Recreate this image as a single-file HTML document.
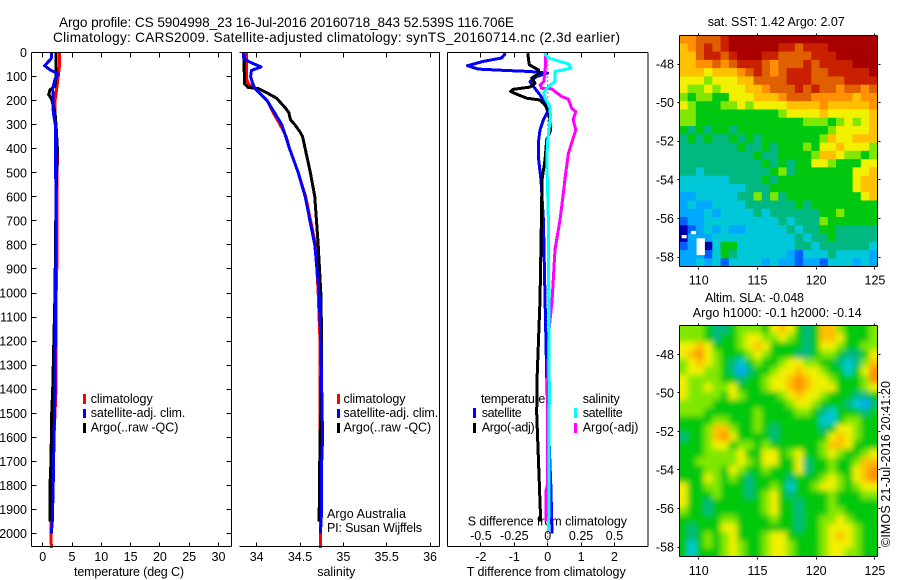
<!DOCTYPE html>
<html>
<head>
<meta charset="utf-8">
<title>Argo profile</title>
<style>
html,body{margin:0;padding:0;background:#fff;width:900px;height:580px;overflow:hidden}
svg{display:block}
text{font-family:"Liberation Sans",sans-serif;font-size:12.5px;fill:#000}
text.big{font-size:13.6px}
.frame{fill:none;stroke:#000;stroke-width:1;shape-rendering:crispEdges}
.curve{fill:none;stroke-width:3;stroke-linejoin:round;shape-rendering:crispEdges}
</style>
</head>
<body>
<svg id="chart" xmlns="http://www.w3.org/2000/svg" width="900" height="580" viewBox="0 0 900 580">
  <defs>
    <clipPath id="map1-clip"><rect x="679.5" y="35.5" width="198" height="231"/></clipPath>
    <clipPath id="map2-clip"><rect x="679.5" y="325.5" width="198" height="231"/></clipPath>
    <filter id="smooth" x="-10%" y="-10%" width="120%" height="120%"><feGaussianBlur stdDeviation="3"/></filter>
  </defs>
  <text class="big" x="59" y="27" textLength="455">Argo profile: CS 5904998_23 16-Jul-2016 20160718_843 52.539S 116.706E</text>
  <text class="big" x="53" y="42" textLength="567">Climatology: CARS2009. Satellite-adjusted climatology: synTS_20160714.nc (2.3d earlier)</text>
  <text x="74" y="576" textLength="110">temperature (deg C)</text>
  <text x="317.3" y="576" textLength="38">salinity</text>
  <text x="466.7" y="576" textLength="159">T difference from climatology</text>
  <text x="467.7" y="525.5" textLength="159.3">S difference from climatology</text>
  <text x="327" y="518" textLength="79">Argo Australia</text>
  <text x="327" y="532" textLength="95">PI: Susan Wijffels</text>
  <text x="707.7" y="26" textLength="137">sat. SST: 1.42 Argo: 2.07</text>
  <text x="705" y="302" textLength="99">Altim. SLA: -0.048</text>
  <text x="692.7" y="317" textLength="169">Argo h1000: -0.1 h2000: -0.14</text>
  <text transform="translate(890,547) rotate(-90)" textLength="166">©IMOS 21-Jul-2016 20:41:20</text>

  <g>
    <rect x="83" y="394" width="3" height="10" fill="#f00"/>
    <rect x="83" y="409" width="3" height="9" fill="#00f"/>
    <rect x="83" y="423" width="3" height="10" fill="#000"/>
    <text x="90.7" y="403" textLength="62">climatology</text>
    <text x="90.7" y="417" textLength="94.7">satellite-adj. clim.</text>
    <text x="90.7" y="431.5" textLength="87.7">Argo(..raw -QC)</text>
  </g>
  <g>
    <rect x="337" y="394" width="3" height="10" fill="#f00"/>
    <rect x="337" y="409" width="3" height="9" fill="#00f"/>
    <rect x="337" y="423" width="3" height="10" fill="#000"/>
    <text x="343.5" y="403" textLength="62">climatology</text>
    <text x="343.5" y="417" textLength="94.7">satellite-adj. clim.</text>
    <text x="343.5" y="431.5" textLength="87.7">Argo(..raw -QC)</text>
  </g>
  <g>
    <text x="481" y="403" textLength="64.3">temperature</text>
    <text x="582.7" y="403" textLength="37">salinity</text>
    <rect x="473" y="408" width="3" height="10" fill="#00f"/>
    <rect x="473" y="423" width="3" height="10" fill="#000"/>
    <rect x="574" y="408" width="3" height="10" fill="#0ff"/>
    <rect x="574" y="423" width="3" height="10" fill="#f0f"/>
    <text x="481.7" y="417" textLength="40">satellite</text>
    <text x="481.7" y="431.5" textLength="53">Argo(-adj)</text>
    <text x="582.7" y="417" textLength="40">satellite</text>
    <text x="582.7" y="431.5" textLength="55.7">Argo(-adj)</text>
  </g>
  <g id="ticks"></g>
  <g id="zero-line"></g>
  <g id="curves"></g>
  <g clip-path="url(#map1-clip)"><g id="sst-cells"></g></g>
  <g clip-path="url(#map2-clip)"><g id="sla-cells" filter="url(#smooth)"></g></g>
  <g id="frames"></g>
</svg>
<script>
// ---- tick labels ----
const depthTicks = [0,100,200,300,400,500,600,700,800,900,1000,1100,1200,1300,1400,1500,1600,1700,1800,1900,2000];
const temperatureTicks = [0,5,10,15,20,25,30];
const salinityTicks = [34,34.5,35,35.5,36];
const salinityTickLabels = ['34','34.5','35','35.5','36'];
const tDiffTicks = [-2,-1,0,1,2];
const sDiffTickLabels = ['-0.5','-0.25','0','0.25','0.5'];
const sDiffTicks = [-0.5,-0.25,0,0.25,0.5];
const lonTicks = [110,115,120,125];
const latTicks = [-48,-50,-52,-54,-56,-58];

// ---- temperature panel ----
const tempClimDepth = [0,60,100,150,200,300,400,600,860,1000,1400,1600,1950,2060];
const tempClimValue = [2.84,2.84,2.67,2.39,2.1,2.15,2.5,2.44,2.44,2.3,2.27,1.93,1.42,1.47];
const tempArgoDepth = [0,100,140,155,175,195,250,300,400,600,1000,1400,1500,1700,1800,1950];
const tempArgoValue = [2.27,2.27,2.1,1.25,1.02,1.53,2.1,2.27,2.5,2.27,2.1,1.7,1.53,1.42,1.25,1.25];
const tempSatDepth = [0,25,55,72,90,110,150,250,300,450,600,1000,1400,1600,1800,1950,2000];
const tempSatValue = [1.47,1.47,0.34,1.25,2.66,2.1,1.7,1.81,2.15,2.15,2.3,2.2,2.1,1.93,1.8,1.64,1.47];

// ---- salinity panel ----
const salClimDepth = [0,50,100,130,150,200,250,300,350,400,500,600,800,1000,1200,2060];
const salClimValue = [33.88,33.88,33.88,33.9,33.98,34.12,34.19,34.27,34.34,34.38,34.48,34.565,34.68,34.71,34.73,34.734];
const salArgoDepth = [0,130,145,150,170,190,230,250,280,300,330,350,400,500,600,800,1000,1200,1500,1600,1800,1950];
const salArgoValue = [33.85,33.86,33.9,34.02,34.13,34.23,34.33,34.37,34.39,34.44,34.5,34.53,34.56,34.62,34.67,34.71,34.74,34.75,34.74,34.73,34.725,34.72];
const salSatDepth = [0,25,40,60,75,100,125,150,200,300,400,500,600,800,1000,1200,1400,1500,1600,1700,1900,2000];
const salSatValue = [33.85,33.85,33.92,34.05,33.94,33.93,33.95,33.98,34.12,34.29,34.38,34.48,34.56,34.67,34.72,34.74,34.75,34.755,34.76,34.75,34.75,34.735];

// ---- difference panel ----
const diffTSatDepth = [3,23,37,55,69,75,79,86,100,121,141,176,211,246,280,322,363,447,530,697,900,1400,1820,1950,2000];
const diffTSatValue = [-1.26,-1.38,-1.93,-2.4,-2.08,-1.23,-0.53,0,-0.33,-0.53,-0.43,-0.23,-0.08,0,-0.13,-0.23,-0.27,-0.27,-0.2,-0.13,-0.1,-0.02,0.1,0.12,0.13];
const diffTArgoDepth = [3,51,72,86,107,128,144,153,162,176,190,197,211,239,294,322,363,447,530,697,1030,1363,1500,1800,1950];
const diffTArgoValue = [-0.6,-0.55,-0.28,-0.25,-0.48,-0.38,-0.53,-1.03,-1.11,-0.88,-0.63,-0.25,-0.13,0.02,0.07,0.09,-0.03,-0.08,-0.17,-0.19,-0.23,-0.32,-0.33,-0.25,-0.21];
const diffSSatDepth = [3,23,37,47,65,72,79,121,141,169,190,225,266,322,363,447,697,1400,1900,1990];
const diffSSatValue = [-0.025,0.005,0.09,0.155,0.175,0.12,0.055,0.055,0.005,-0.03,-0.02,0.017,0.02,0.01,0,-0.007,0.005,0.012,0.01,0.005];
const diffSArgoDepth = [3,30,86,121,135,149,151,162,183,194,232,246,280,322,363,419,502,586,697,820,1030,1155,1363,1500,1800,1820,1950];
const diffSArgoValue = [-0.015,-0.015,-0.02,-0.03,-0.057,-0.045,0.03,0.055,0.105,0.155,0.18,0.21,0.19,0.21,0.187,0.155,0.135,0.117,0.092,0.055,0.033,0.01,0,-0.002,-0.002,-0.012,-0.012];

// ---- SST heatmap (colour level per cell, rows north to south) ----
const sstGrid = [
[9,9,10,10,10,11,12,12,12,12,12,12,12,12,12,12,12,12,12,12,12,12,12,12],
[8,9,10,11,10,11,12,12,12,12,12,12,11,11,10,11,11,11,12,12,12,12,12,12],
[8,8,10,11,11,10,11,12,12,12,11,11,10,10,10,10,11,11,11,12,12,12,12,12],
[8,8,9,9,10,9,10,11,11,11,10,9,10,10,10,11,10,11,11,11,11,12,12,12],
[8,8,8,7,8,8,8,9,10,11,10,9,10,11,11,11,10,10,11,11,11,11,11,12],
[7,7,7,6,7,7,7,8,8,10,10,10,10,11,11,11,10,10,10,10,11,11,11,11],
[7,6,6,7,6,7,7,7,8,8,9,10,10,10,11,10,11,10,10,9,10,10,9,10],
[6,5,6,6,5,5,7,7,7,8,8,8,9,10,10,10,9,9,9,9,9,8,9,9],
[7,6,5,5,5,6,6,7,6,7,7,7,7,8,8,8,8,9,8,8,8,8,8,9],
[6,6,5,5,5,5,5,5,5,5,5,5,6,7,7,7,7,8,7,7,7,7,7,8],
[6,6,5,5,5,5,5,5,5,5,5,5,5,5,5,6,6,6,5,6,7,6,7,8],
[5,4,5,4,5,5,4,5,5,5,5,5,5,5,5,5,5,5,6,7,7,7,7,8],
[4,5,4,5,4,4,5,4,5,4,5,5,5,5,5,5,5,6,8,7,7,8,8,8],
[4,4,4,4,4,4,4,5,4,4,5,4,5,5,5,6,5,7,7,8,7,7,7,6],
[4,4,4,4,4,4,4,4,4,5,4,4,5,5,5,5,6,8,8,7,6,6,5,6],
[4,4,4,4,4,4,4,4,4,4,5,4,5,4,5,5,7,7,6,5,5,5,7,7],
[4,4,3,4,4,4,4,4,4,4,4,5,6,4,5,5,5,5,5,5,5,7,7,8],
[3,3,3,3,3,3,4,4,4,4,5,4,5,5,5,5,5,5,5,5,5,7,8,8],
[3,3,3,3,3,3,3,3,4,4,4,5,5,5,5,5,5,5,5,5,5,7,8,8],
[2,2,3,3,3,3,3,4,4,6,4,6,4,5,5,5,5,5,5,5,5,5,7,8],
[2,3,2,2,3,3,3,3,4,4,4,4,4,4,5,4,5,5,5,5,5,5,5,5],
[2,2,2,3,2,3,3,3,3,4,3,4,4,4,4,4,4,5,5,6,5,5,5,5],
[1,2,2,3,3,3,3,3,3,3,3,3,4,3,4,4,4,6,5,5,5,5,5,5],
[0,1,2,3,2,3,2,2,3,3,3,3,3,4,3,4,4,5,5,4,4,4,4,4],
[0,2,2,2,3,3,3,3,3,3,3,3,3,3,4,3,4,4,5,4,4,4,4,4],
[1,2,2,0,3,5,5,3,3,3,3,3,3,3,4,4,3,4,4,4,4,4,4,3],
[2,2,2,1,3,5,4,3,3,3,3,3,3,2,1,3,3,3,4,3,3,3,3,2],
[2,2,3,2,3,1,3,3,3,3,2,3,2,2,1,2,2,1,3,3,3,2,3,2]
];
// ---- SLA heatmap (colour level per cell, rows north to south) ----
const slaGrid = [
[6,6,6,5,4,4,5,6,6,6,5,7,8,7,5,4,5,8,8,6,5,5,5,6],
[6,6,6,5,4,5,5,6,7,7,6,6,7,6,5,4,5,8,8,7,5,5,5,6],
[7,7,8,7,5,5,5,6,7,8,7,5,5,5,5,4,5,7,7,6,5,5,6,6],
[7,8,9,7,6,5,5,5,6,7,6,5,5,5,4,4,5,6,6,5,4,4,5,7],
[6,7,8,7,6,5,4,3,5,6,5,5,6,7,7,6,6,5,5,4,3,4,6,8],
[6,7,7,6,6,5,4,2,4,5,5,6,7,7,8,7,7,6,5,5,3,5,7,9],
[7,6,6,6,6,5,5,4,5,5,6,7,7,8,9,8,7,7,6,5,5,5,6,9],
[7,6,6,7,6,6,7,5,5,5,6,7,7,8,9,8,7,7,7,5,5,5,6,7],
[7,6,6,6,6,5,7,6,5,5,5,5,6,7,8,7,7,6,5,5,5,4,4,5],
[6,6,6,6,5,5,5,5,5,5,5,5,5,6,7,7,6,5,5,5,4,3,2,4],
[6,6,6,5,5,5,5,5,5,6,5,5,5,5,6,6,5,4,3,5,5,5,4,5],
[5,5,5,5,6,6,5,5,5,6,5,5,5,5,5,5,5,3,3,5,6,6,5,5],
[5,5,5,6,8,8,6,5,5,6,5,4,5,5,5,5,5,4,5,7,7,6,5,5],
[4,5,5,6,8,9,7,5,5,5,5,4,5,5,5,5,5,5,7,8,7,6,5,5],
[5,5,5,6,7,7,5,6,6,5,6,5,5,5,5,5,5,6,8,8,7,5,5,5],
[5,5,5,6,6,6,6,7,5,5,7,7,5,6,7,5,5,6,7,6,5,5,6,7],
[5,5,6,6,6,6,6,7,6,5,7,7,5,5,7,4,5,5,6,5,5,6,8,8],
[5,5,5,6,6,5,7,6,5,5,6,5,5,5,7,4,5,5,6,5,5,7,8,9],
[5,5,5,7,6,5,6,5,4,5,5,5,5,4,5,5,5,6,7,6,5,7,8,9],
[7,5,5,6,6,5,5,5,4,5,5,6,5,3,5,5,6,7,7,6,5,6,7,7],
[7,5,5,5,6,5,5,5,4,5,6,7,5,4,5,5,5,5,6,5,5,5,6,6],
[7,5,5,4,5,5,5,5,5,5,6,7,5,5,4,5,5,5,6,5,5,5,5,5],
[6,5,5,4,5,5,5,5,5,5,6,7,5,5,4,5,5,5,6,6,5,5,5,5],
[5,5,5,5,5,6,6,5,5,5,5,6,5,5,4,5,5,6,6,7,6,5,5,5],
[5,4,5,5,5,7,7,5,5,5,5,5,5,5,4,5,5,6,7,7,7,6,5,5],
[5,4,5,6,5,6,7,5,5,5,6,7,7,5,5,5,5,6,7,8,7,6,5,5],
[5,3,5,6,5,6,7,6,5,5,6,7,7,6,5,5,5,6,7,7,7,6,5,5],
[5,3,5,5,5,6,7,6,5,5,6,7,7,6,5,5,5,6,7,7,6,6,5,5]
];
// Missing-data boxes in the SST map: lon west, lat north, lon east, lat south
const sstMissing = [[109.82,-57.03,110.53,-57.9],[108.55,-56.86,108.97,-57.03],[109.34,-56.65,109.77,-56.82]];
const mapPalette = ['#0000b0','#0060ff','#00a8ff','#00c8d8','#00b880','#00c810','#80e800','#f0f000','#ffc000','#ff9000','#e06000','#c82000','#a80000'];

// ---- axis functions ----
const yDepth = d => 52.5 + d * 0.2405;
const xTemp = t => 42.7 + t * 5.86;
const xSal = s => 256.7 + (s - 34) * 86.67;
const xDiffT = t => 547.7 + t * 33.4;
const xDiffS = s => 547.7 + s * 133.6;
const xLon = lon => 698.7 + (lon - 110) * 11.75;
const ySst = lat => 64 + (-48 - lat) * 19.3;
const ySla = lat => 354.3 + (-48 - lat) * 19.27;

const NS = 'http://www.w3.org/2000/svg';
const ticksG = document.getElementById('ticks');
const curvesG = document.getElementById('curves');
const framesG = document.getElementById('frames');

function tickLine(x1, y1, x2, y2) {
  const el = document.createElementNS(NS, 'line');
  el.setAttribute('x1', Math.floor(x1) + 0.5);
  el.setAttribute('x2', Math.floor(x2) + 0.5);
  el.setAttribute('y1', Math.floor(y1) + 0.5);
  el.setAttribute('y2', Math.floor(y2) + 0.5);
  el.setAttribute('stroke', '#000');
  el.setAttribute('shape-rendering', 'crispEdges');
  
  
  ticksG.appendChild(el);
}
function tickLabel(x, y, str, anchor) {
  const el = document.createElementNS(NS, 'text');
  el.setAttribute('x', x);
  el.setAttribute('y', y);
  el.setAttribute('text-anchor', anchor);
  el.textContent = str;
  
  
  ticksG.appendChild(el);
}
function frame(x, y, w, h, parts) {
  // parts: sides to draw, as a subset of 'tblr'
  const x2 = x + w, y2 = y + h;
  const segs = {t:[x,y,x2,y], b:[x,y2,x2,y2], l:[x,y,x,y2], r:[x2,y,x2,y2]};
  for (const p of parts) {
    const el = document.createElementNS(NS, 'line');
    el.setAttribute('x1', segs[p][0]);
    el.setAttribute('y1', segs[p][1]);
    el.setAttribute('x2', segs[p][2]);
    el.setAttribute('y2', segs[p][3]);
    el.setAttribute('class', 'frame');
    
    
    framesG.appendChild(el);
  }
}
function curve(depths, values, xFn, color, name) {
  const el = document.createElementNS(NS, 'polyline');
  el.setAttribute('points', depths.map((d, i) => xFn(values[i]).toFixed(1) + ',' + yDepth(d).toFixed(1)).join(' '));
  el.setAttribute('class', 'curve');
  el.setAttribute('stroke', color);
  
  
  curvesG.appendChild(el);
}
function heatmap(grid, targetId, yFn) {
  const target = document.getElementById(targetId);
  const lon0 = 108.35, lon1 = 125.2, lat0 = -46.5, lat1 = -58.5;
  const rows = grid.length;
  grid.forEach((row, r) => {
    const cols = row.length;
    row.forEach((level, c) => {
      let x0 = xLon(lon0 + (lon1 - lon0) * c / cols);
      let x1 = xLon(lon0 + (lon1 - lon0) * (c + 1) / cols);
      let y0 = yFn(lat0 + (lat1 - lat0) * r / rows);
      let y1 = yFn(lat0 + (lat1 - lat0) * (r + 1) / rows);
      // stretch the outer cells past the clip so the smoothing has no pale edge
      if (c === 0) x0 -= 12;
      if (c === cols - 1) x1 += 12;
      if (r === 0) y0 -= 12;
      if (r === rows - 1) y1 += 12;
      const el = document.createElementNS(NS, 'rect');
      el.setAttribute('x', x0.toFixed(2));
      el.setAttribute('y', y0.toFixed(2));
      el.setAttribute('width', (x1 - x0 + 0.6).toFixed(2));
      el.setAttribute('height', (y1 - y0 + 0.6).toFixed(2));
      el.setAttribute('fill', mapPalette[level]);
      
      
      target.appendChild(el);
    });
  });
}

// ---- profile panels: frames and ticks ----
frame(31.5, 52.5, 200, 494, 'tblr');
frame(239.5, 52.5, 200, 494, 'tbr');
frame(447.5, 52.5, 200.5, 494, 'tblr');

depthTicks.forEach(d => {
  const y = yDepth(d);
  tickLine(31, y, 36, y);
  tickLine(226, y, 231, y);
  tickLabel(27, y + 4.5, String(d), 'end');
});
temperatureTicks.forEach(t => {
  const x = xTemp(t);
  tickLine(x, 52, x, 57);
  tickLine(x, 542, x, 546);
  tickLabel(x, 561, String(t), 'middle');
});
salinityTicks.forEach((s, i) => {
  const x = xSal(s);
  tickLine(x, 52, x, 57);
  tickLine(x, 542, x, 546);
  tickLabel(x, 561, salinityTickLabels[i], 'middle');
});
tDiffTicks.forEach(t => {
  const x = xDiffT(t);
  tickLine(x, 52, x, 57);
  tickLine(x, 542, x, 546);
  tickLabel(x, 561, String(t), 'middle');
});
sDiffTicks.forEach((s, i) => {
  tickLabel(xDiffS(s), 540, sDiffTickLabels[i], 'middle');
});

// ---- zero line in the difference panel ----
const zeroEl = document.createElementNS(NS, 'line');
zeroEl.setAttribute('x1', xDiffT(0));
zeroEl.setAttribute('x2', xDiffT(0));
zeroEl.setAttribute('y1', yDepth(0));
zeroEl.setAttribute('y2', yDepth(2050));
zeroEl.setAttribute('stroke', '#000');
zeroEl.setAttribute('stroke-dasharray', '1 3');


document.getElementById('zero-line').appendChild(zeroEl);

// ---- curves ----
curve(tempClimDepth, tempClimValue, xTemp, '#f00', 'temperature-climatology-line');
curve(tempArgoDepth, tempArgoValue, xTemp, '#000', 'temperature-argo-line');
curve(tempSatDepth, tempSatValue, xTemp, '#00f', 'temperature-satellite-line');
curve(salClimDepth, salClimValue, xSal, '#f00', 'salinity-climatology-line');
curve(salArgoDepth, salArgoValue, xSal, '#000', 'salinity-argo-line');
curve(salSatDepth, salSatValue, xSal, '#00f', 'salinity-satellite-line');
curve(diffTSatDepth, diffTSatValue, xDiffT, '#00f', 'difference-t-satellite-line');
curve(diffTArgoDepth, diffTArgoValue, xDiffT, '#000', 'difference-t-argo-line');
curve(diffSArgoDepth, diffSArgoValue, xDiffS, '#f0f', 'difference-s-argo-line');
curve(diffSSatDepth, diffSSatValue, xDiffS, '#0ff', 'difference-s-satellite-line');

// ---- maps ----
heatmap(sstGrid, 'sst-cells', ySst);
heatmap(slaGrid, 'sla-cells', ySla);
sstMissing.forEach(box => {
  const el = document.createElementNS(NS, 'rect');
  el.setAttribute('x', xLon(box[0]).toFixed(1));
  el.setAttribute('y', ySst(box[1]).toFixed(1));
  el.setAttribute('width', (xLon(box[2]) - xLon(box[0])).toFixed(1));
  el.setAttribute('height', (ySst(box[3]) - ySst(box[1])).toFixed(1));
  el.setAttribute('fill', '#fff');
  
  
  document.getElementById('sst-cells').appendChild(el);
});

frame(679.5, 35.5, 198, 231, 'tblr');
frame(679.5, 325.5, 198, 231, 'tblr');
[[35, 266, ySst, 284.5], [325, 556, ySla, 575]].forEach(m => {
  lonTicks.forEach(lon => {
    const x = xLon(lon);
    tickLine(x, m[0] - 2, x, m[0]);
    tickLine(x, m[1] + 1, x, m[1] + 3);
    tickLabel(x, m[3], String(lon), 'middle');
  });
  latTicks.forEach(lat => {
    const y = m[2](lat);
    tickLine(677, y, 679, y);
    tickLine(878, y, 880, y);
    tickLabel(674, y + 4.5, String(lat), 'end');
  });
});
</script>
</body>
</html>
